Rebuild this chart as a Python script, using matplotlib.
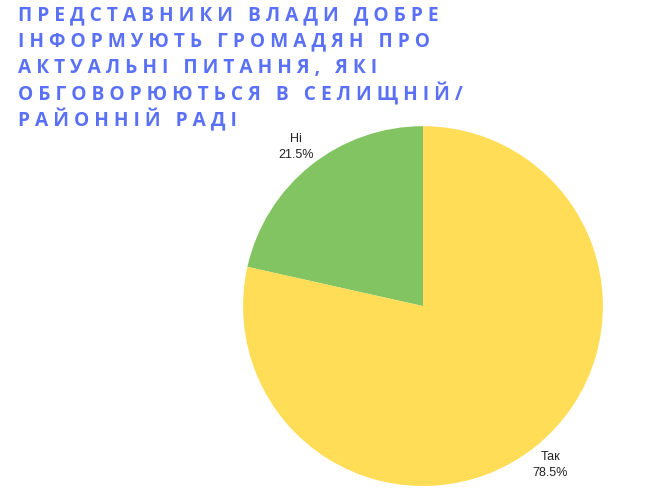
import matplotlib.pyplot as plt

labels = ['Ні', 'Так']
values = [21.5, 78.5]
colors = ['#82c462', '#ffdd57']
title_lines = [
    'ПРЕДСТАВНИКИ ВЛАДИ ДОБРЕ',
    'ІНФОРМУЮТЬ ГРОМАДЯН ПРО',
    'АКТУАЛЬНІ ПИТАННЯ, ЯКІ',
    'ОБГОВОРЮЮТЬСЯ В СЕЛИЩНІЙ/',
    'РАЙОННІЙ РАДІ',
]

fig = plt.figure(figsize=(6.63, 4.97), dpi=100)
ax = fig.add_axes([0.3665, 0.0221, 0.543, 0.724])

wedges, texts = ax.pie(values, colors=colors, startangle=90, counterclock=True,
                       labels=[f'{l}\n{v}%' for l, v in zip(labels, values)],
                       labeldistance=1.13,
                       textprops=dict(fontsize=9, family='Liberation Sans',
                                      color='#222222', ha='center', va='center',
                                      linespacing=1.45))
ax.set_xlim(-1, 1)
ax.set_ylim(-1, 1)
ax.set_aspect('equal')

# spaced-out title, one line at a time
for i, line in enumerate(title_lines):
    spaced = ' '.join(line)
    fig.text(18 / 663, 1 - (15 + i * 26.3) / 497, spaced, fontsize=13.8,
             fontweight='bold', family='Open Sans', color='#5a70f6',
             ha='left', va='center')

fig.savefig('out.png', dpi=100, facecolor='white')
